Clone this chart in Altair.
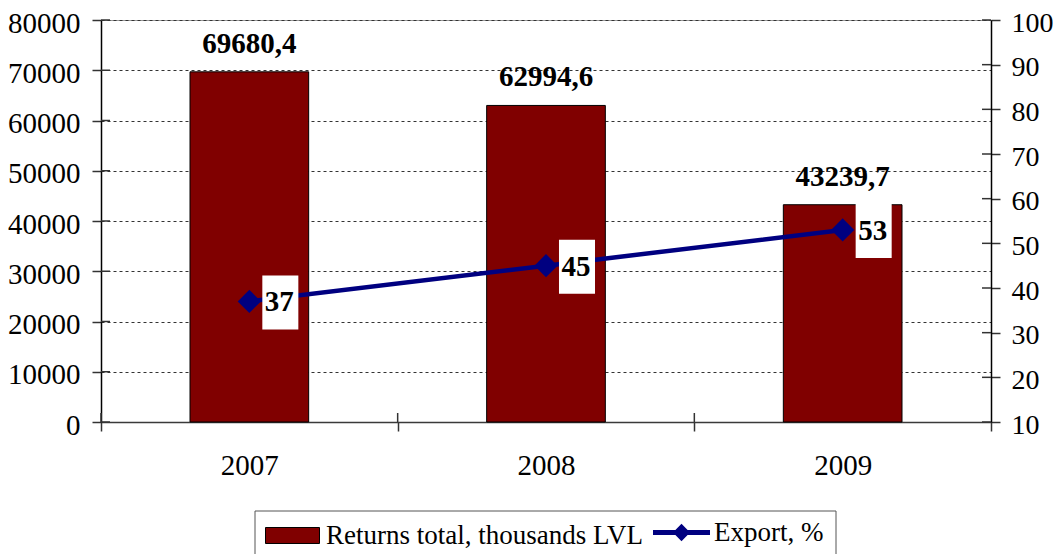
import altair as alt
import pandas as pd

years = ["2007", "2008", "2009"]
returns = [69680.4, 62994.6, 43239.7]
returns_labels = ["69680,4", "62994,6", "43239,7"]
export = [37, 45, 53]
export_labels = ["37", "45", "53"]
bar_series = "Returns total, thousands LVL"
line_series = "Export, %"
left_ticks = [0, 10000, 20000, 30000, 40000, 50000, 60000, 70000, 80000]
right_ticks = [10, 20, 30, 40, 50, 60, 70, 80, 90, 100]

df = pd.DataFrame({
    "year": years,
    "returns": returns,
    "returns_label": returns_labels,
    "export": export,
    "export_label": export_labels,
    "bar_series": [bar_series] * 3,
    "line_series": [line_series] * 3,
})

FONT = "Liberation Serif"
FS = 29
LFS = 27
TICK = "#333"

x_scale = alt.Scale(paddingInner=0, paddingOuter=0)
x_axis = alt.Axis(title=None, labelAngle=0, tickBand="extent", labelPadding=20,
                  tickSize=9, grid=False, domainColor="#3a3a3a")
x_enc = alt.X("year:N", scale=x_scale, axis=x_axis)
y_left = alt.Y(
    "returns:Q",
    scale=alt.Scale(domain=[0, 80000], nice=False),
    axis=alt.Axis(title=None, values=left_ticks, format="d",
                  grid=True, gridDash=[3, 3], gridColor="#333", gridWidth=1,
                  labelPadding=12, tickSize=9, labelOffset=3),
)
y_right = alt.Y(
    "export:Q",
    scale=alt.Scale(domain=[10, 100], zero=False, nice=False),
    axis=alt.Axis(title=None, orient="right", values=right_ticks, labelFontSize=28,
                  format="d", grid=False, labelPadding=11, tickSize=9, labelOffset=3),
)

base = alt.Chart(df)

bars = base.mark_bar(width=alt.RelativeBandSize(0.4), stroke="black", strokeWidth=1, opacity=1).encode(
    x=x_enc,
    y=y_left,
    fill=alt.Fill(
        "bar_series:N",
        scale=alt.Scale(domain=[bar_series], range=["#800000"]),
        legend=alt.Legend(
            title=None, orient="none", legendX=164, legendY=488, padding=0,
            symbolType="M-1,-0.296L1,-0.296L1,0.296L-1,0.296Z", symbolSize=2916,
            symbolStrokeColor="black", symbolStrokeWidth=1, symbolOpacity=1,
            labelFont=FONT, labelFontSize=LFS, labelColor="black", labelOffset=6,
            labelLimit=600,
        ),
    ),
)
bar_text = base.mark_text(baseline="alphabetic", dy=-19, font=FONT, fontSize=FS,
                          fontWeight="bold", color="black").encode(
    x=x_enc, y=y_left, text="returns_label:N"
)

# inner halves of the crossing ticks
left_inner = alt.Chart(pd.DataFrame({"returns": left_ticks})).mark_rule(
    color=TICK, strokeWidth=1.5
).encode(x=alt.value(0), x2=alt.value(9), y=y_left)
right_inner = alt.Chart(pd.DataFrame({"export": right_ticks})).mark_rule(
    color=TICK, strokeWidth=1.5
).encode(x=alt.value(881), x2=alt.value(890), y=y_right)
bottom_inner = alt.Chart(pd.DataFrame({"year": years})).mark_rule(
    color=TICK, strokeWidth=1.5
).encode(x=alt.X("year:N", scale=x_scale, axis=x_axis, bandPosition=0),
         y=alt.value(393), y2=alt.value(402))

line = base.mark_line(color="#000080", strokeWidth=4.5).encode(x=x_enc, y=y_right)
points = base.mark_point(shape="diamond", filled=True, size=540, opacity=1).encode(
    x=x_enc,
    y=y_right,
    color=alt.Color(
        "line_series:N",
        scale=alt.Scale(domain=[line_series], range=["#000080"]),
        legend=alt.Legend(
            title=None, orient="none", legendX=552, legendY=484, padding=0,
            symbolType="M-1,-0.088L1,-0.088L1,0.088L-1,0.088Z M-0.3,0L0,-0.31L0.3,0L0,0.31Z",
            symbolSize=3249, symbolOpacity=1, symbolStrokeWidth=0,
            labelFont=FONT, labelFontSize=LFS, labelColor="black", labelOffset=4,
            labelLimit=600,
        ),
    ),
)
boxes = base.mark_point(shape="M-0.667,-1L0.667,-1L0.667,1L-0.667,1Z", filled=True,
                        fill="white", size=2916, opacity=1, xOffset=31, yOffset=1).encode(
    x=x_enc, y=y_right
)
line_text = base.mark_text(xOffset=30, yOffset=10, font=FONT, fontSize=FS, fontWeight="bold",
                           color="black", baseline="alphabetic").encode(
    x=x_enc, y=y_right, text="export_label:N"
)

frame = alt.Chart(alt.Data(values=[{"a": 1}])).mark_rect(
    fill="transparent", stroke="#555", strokeWidth=1
).encode(x=alt.value(154), x2=alt.value(735), y=alt.value(491), y2=alt.value(580))

left = alt.layer(bars, bar_text, left_inner)
right = alt.layer(line, points, boxes, line_text, right_inner)

chart = alt.layer(left, right, bottom_inner, frame).resolve_scale(
    y="independent"
).properties(
    width=890, height=402,
    autosize=alt.AutoSizeParams(type="none"),
    padding={"left": 93, "top": 12, "right": 62, "bottom": 132},
).configure_axis(
    labelFont=FONT, labelFontSize=FS, labelColor="black",
    domainColor="black", tickColor=TICK, domainWidth=1.5, tickWidth=1.5,
).configure_view(stroke="#999")

chart.save("out.html", embed_options={"renderer": "svg", "actions": False})
